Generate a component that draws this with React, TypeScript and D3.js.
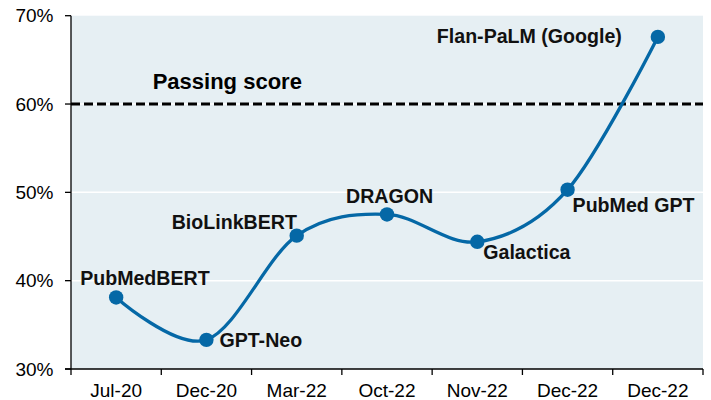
import React from "react";
import * as d3 from "d3";

const categories = ["Jul-20", "Dec-20", "Mar-22", "Oct-22", "Nov-22", "Dec-22", "Dec-22 "];
const models = ["PubMedBERT", "GPT-Neo", "BioLinkBERT", "DRAGON", "Galactica", "PubMed GPT", "Flan-PaLM (Google)"];
const scores = [38.1, 33.3, 45.1, 47.5, 44.4, 50.3, 67.6];
const yTicks = [30, 40, 50, 60, 70];
const passingScore = 60;
const passingLabel = "Passing score";

// label placement relative to the point: [dx, dy, anchor]
const labelOffsets: [number, number, string][] = [
  [-36, -12, "start"],
  [13, 7, "start"],
  [-125, -7, "start"],
  [-41, -11, "start"],
  [6, 17, "start"],
  [5, 22, "start"],
  [-221, 6, "start"],
];

const W = 711;
const H = 400;
const M = { left: 71, right: 8, top: 15.7, bottom: 31 };

export default function App() {
  const x = d3
    .scaleBand<string>()
    .domain(categories)
    .range([M.left, W - M.right])
    .paddingInner(0)
    .paddingOuter(0);
  const y = d3.scaleLinear().domain([30, 70]).range([H - M.bottom, M.top]);

  const pts: [number, number][] = scores.map((s, i) => [
    (x(categories[i]) as number) + x.bandwidth() / 2,
    y(s),
  ]);
  const line = d3.line().curve(d3.curveCardinal.tension(0))(pts) as string;

  const font = "'Liberation Sans', Arial, sans-serif";
  const x0 = M.left;
  const x1 = W - M.right;
  const yb = H - M.bottom;
  const boundaries = categories.map((c) => x(c) as number).concat([x1]);

  return (
    <svg
      width={W}
      height={H}
      style={{ position: "absolute", left: 0, top: 0, background: "#fff" }}
      fontFamily={font}
    >
      <rect x={x0} y={M.top} width={x1 - x0} height={yb - M.top} fill="#e6eff3" />
      {yTicks
        .filter((t) => t !== 30 && t !== 70)
        .map((t) => (
          <line key={t} x1={x0} x2={x1} y1={y(t)} y2={y(t)} stroke="#ffffff" strokeWidth={1.5} />
        ))}
      <line
        x1={x0}
        x2={x1}
        y1={y(passingScore)}
        y2={y(passingScore)}
        stroke="#000"
        strokeWidth={3}
        strokeDasharray="9,4"
      />
      <text x={152.7} y={89.3} fontSize={22} fontWeight="bold" fill="#000">
        {passingLabel}
      </text>

      {/* axes */}
      <line x1={x0} x2={x0} y1={M.top} y2={yb} stroke="#000" strokeWidth={1.3} />
      <line x1={x0 - 6} x2={x1} y1={yb} y2={yb} stroke="#000" strokeWidth={1.3} />
      {yTicks.map((t) => (
        <g key={t}>
          <line x1={x0 - 6} x2={x0} y1={y(t)} y2={y(t)} stroke="#000" strokeWidth={1.3} />
          <text x={53.5} y={y(t) + 6.5} fontSize={19} textAnchor="end" fill="#000">
            {t + "%"}
          </text>
        </g>
      ))}
      {boundaries.map((b, i) => (
        <line key={i} x1={b} x2={b} y1={yb} y2={yb + 6} stroke="#000" strokeWidth={1.3} />
      ))}
      {categories.map((c) => (
        <text
          key={c}
          x={(x(c) as number) + x.bandwidth() / 2}
          y={396.5}
          fontSize={19}
          textAnchor="middle"
          fill="#000"
        >
          {c.trim()}
        </text>
      ))}

      <path d={line} fill="none" stroke="#0568a6" strokeWidth={3.3} />
      {pts.map((p, i) => (
        <circle key={i} cx={p[0]} cy={p[1]} r={7.2} fill="#0568a6" />
      ))}
      {pts.map((p, i) => (
        <text
          key={"l" + i}
          x={p[0] + labelOffsets[i][0]}
          y={p[1] + labelOffsets[i][1]}
          fontSize={19.6}
          fontWeight="bold"
          textAnchor={labelOffsets[i][2]}
          fill="#111"
        >
          {models[i]}
        </text>
      ))}
    </svg>
  );
}
